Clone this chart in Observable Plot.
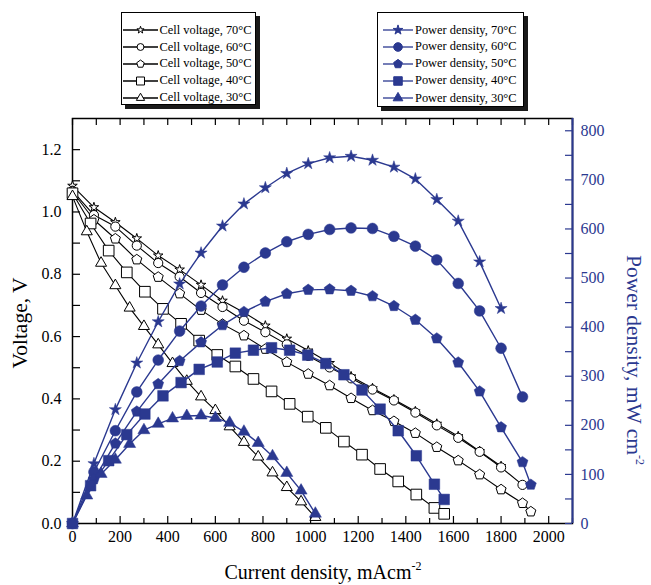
<!DOCTYPE html>
<html><head><meta charset="utf-8">
<script src="https://cdn.jsdelivr.net/npm/d3@7"></script>
<script src="https://cdn.jsdelivr.net/npm/@observablehq/plot@0.6"></script>
<style>
body{margin:0;background:#fff;}
#wrap{position:relative;width:651px;height:585px;font-family:"Liberation Serif","Times New Roman",serif;overflow:hidden;}
#wrap svg.plot{position:absolute;left:0;top:0;}
#wrap svg.plot text{font-family:"Liberation Serif","Times New Roman",serif;}
.legend{position:absolute;border:1.3px solid #000;background:#fff;box-shadow:4px 4px 0 #1a1a1a;box-sizing:border-box;}
.lrow{position:absolute;font-size:12.4px;white-space:nowrap;line-height:14px;}
.title{position:absolute;font-size:20px;white-space:nowrap;line-height:22px;}
.title sup{font-size:12px;vertical-align:9px;line-height:0;}
.vt{font-size:21.5px;}
</style></head><body><div id="wrap"></div>
<script>
const blue = "#2b3990";

// ---- data (current density mA/cm2, voltage V, power density mW/cm2) ----
const cur70  = [0,90,180,270,360,450,540,630,720,810,900,990,1080,1170,1260,1350,1440,1530,1620,1710,1800];
const volt70 = [1.084,1.015,0.967,0.915,0.860,0.815,0.766,0.715,0.677,0.635,0.593,0.555,0.515,0.472,0.434,0.398,0.360,0.320,0.280,0.232,0.184];
const pow70  = [0,122,232,327,411,488,551,606,651,684,713,733,745,748,740,726,702,660,616,533,438];

const cur60  = [0,90,180,270,360,450,540,630,720,810,900,990,1080,1170,1260,1350,1440,1530,1620,1710,1800,1890];
const volt60 = [1.068,0.990,0.953,0.892,0.836,0.792,0.740,0.695,0.651,0.614,0.575,0.538,0.501,0.466,0.430,0.395,0.356,0.315,0.275,0.230,0.180,0.124];
const pow60  = [0,105,189,268,333,392,443,486,522,551,574,589,599,602,601,585,565,537,489,433,357,258];

const cur50  = [0,90,180,270,360,450,540,630,720,810,900,990,1080,1170,1260,1350,1440,1530,1620,1710,1800,1890,1925];
const volt50 = [1.065,0.975,0.914,0.847,0.791,0.738,0.685,0.640,0.603,0.560,0.518,0.480,0.443,0.402,0.363,0.328,0.290,0.245,0.202,0.157,0.109,0.065,0.038];
const pow50  = [0,90,163,228,284,331,369,404,431,452,468,476,477,474,463,443,415,377,328,269,196,125,79];

const cur40  = [0,76,152,228,304,380,456,532,608,684,760,836,912,988,1064,1140,1216,1292,1368,1444,1520,1561];
const volt40 = [1.060,0.963,0.876,0.806,0.744,0.689,0.641,0.587,0.541,0.504,0.464,0.424,0.384,0.343,0.307,0.263,0.221,0.175,0.135,0.093,0.050,0.031];
const pow40  = [0,77,128,181,223,260,287,314,329,347,353,358,353,343,326,303,272,233,189,138,80,49];

const cur30  = [0,60,120,180,240,300,360,420,480,540,600,660,720,780,840,900,960,1020];
const volt30 = [1.050,0.937,0.836,0.764,0.692,0.633,0.574,0.514,0.457,0.407,0.363,0.311,0.261,0.214,0.163,0.116,0.070,0.020];
const pow30  = [0,57,101,130,162,190,203,214,219,220,215,205,187,164,137,103,67,20];

const temps = ["70","60","50","40","30"];
const xMajor = [0,200,400,600,800,1000,1200,1400,1600,1800,2000];
const xAll   = [0,100,200,300,400,500,600,700,800,900,1000,1100,1200,1300,1400,1500,1600,1700,1800,1900,2000,2100];
const xMinor = [100,300,500,700,900,1100,1300,1500,1700,1900,2100];
const yMajor = [0,0.2,0.4,0.6,0.8,1.0,1.2];
const yAll   = [0,0.1,0.2,0.3,0.4,0.5,0.6,0.7,0.8,0.9,1.0,1.1,1.2];
const pMajor = [0,100,200,300,400,500,600,700,800];
const pAll   = [0,50,100,150,200,250,300,350,400,450,500,550,600,650,700,750,800];

// ---- layout ----
const W = 651, H = 585, mL = 72, mR = 79, mT = 118, mB = 62;
const fw = W - mL - mR, fh = H - mT - mB;
const yMax = 1.3, pMax = 825, k = yMax / pMax;
const serif = '"Liberation Serif","Times New Roman",serif';

const symbolPentagon = {draw(ctx, size){
  const R = Math.sqrt(size / 2.3776);
  for (let i = 0; i < 5; i++) {
    const a = -Math.PI/2 + i * 2 * Math.PI / 5;
    const x = R * Math.cos(a), y = R * Math.sin(a);
    if (i) ctx.lineTo(x, y); else ctx.moveTo(x, y);
  }
  ctx.closePath();
}};

const series = [
  {t:"70", cur:cur70, volt:volt70, pow:pow70, sym:d3.symbolStar,     rH:3.0, rS:3.8},
  {t:"60", cur:cur60, volt:volt60, pow:pow60, sym:d3.symbolCircle,   rH:4.6, rS:5.4},
  {t:"50", cur:cur50, volt:volt50, pow:pow50, sym:symbolPentagon,    rH:4.6, rS:5.0},
  {t:"40", cur:cur40, volt:volt40, pow:pow40, sym:d3.symbolSquare,   rH:6.0, rS:6.0},
  {t:"30", cur:cur30, volt:volt30, pow:pow30, sym:d3.symbolTriangle, rH:4.1, rS:4.5}
];
series.forEach(s => { s.rows = s.cur.map((c, i) => ({I: c, V: s.volt[i], P: s.pow[i]})); });

const marks = [
  Plot.frame({stroke: "black", strokeWidth: 1.5}),
  // inward ticks
  Plot.ruleX(xAll, {insetBottom: fh - 7, stroke: "black", strokeWidth: 1.2}),
  Plot.ruleX(xMajor, {insetTop: fh - 7, stroke: "black", strokeWidth: 1.2}),
  Plot.ruleX(xMinor, {insetTop: fh - 5, stroke: "black", strokeWidth: 1.2}),
  Plot.ruleY(yAll, {insetRight: fw - 8, stroke: "black", strokeWidth: 1.2}),
  Plot.ruleY(pAll.map(p => p * k), {insetLeft: fw - 7, stroke: blue, strokeWidth: 1.2}),
  Plot.ruleX([2100], {stroke: blue, strokeWidth: 2}),
  Plot.axisX({ticks: xMajor, tickSize: 0, tickPadding: 7, label: null, tickFormat: d => String(d),
              fontFamily: serif, fontSize: 16}),
  Plot.axisY({ticks: yMajor, tickSize: 0, tickPadding: 11, tickFormat: d3.format(".1f"), label: null,
              fontFamily: serif, fontSize: 16}),
  Plot.axisY({anchor: "right", ticks: pMajor.map(p => p * k), tickSize: 0, tickPadding: 8,
              tickFormat: d => String(Math.round(d / k)), label: null, fill: blue,
              fontFamily: serif, fontSize: 16})
];
// voltage curves (hollow markers)
series.forEach(s => {
  marks.push(Plot.line(s.rows, {x: "I", y: "V", stroke: "black", strokeWidth: 1.1}));
});
series.forEach(s => {
  marks.push(Plot.dot(s.rows, {x: "I", y: "V", symbol: s.sym, r: s.rH, fill: "white", stroke: "black", strokeWidth: 1}));
});
// power curves (solid markers)
series.forEach(s => {
  marks.push(Plot.line(s.rows, {x: "I", y: d => d.P * k, stroke: blue, strokeWidth: 1.4}));
  marks.push(Plot.dot(s.rows, {x: "I", y: d => d.P * k, symbol: s.sym, r: s.rS, fill: blue, stroke: blue, strokeWidth: 0.5}));
});

const chart = Plot.plot({
  width: W, height: H,
  marginLeft: mL, marginRight: mR, marginTop: mT, marginBottom: mB,
  x: {domain: [0, 2100]},
  y: {domain: [0, yMax]},
  style: {fontFamily: serif, fontSize: "16px", background: "white", color: "black"},
  marks
});
chart.classList.add("plot");
const wrap = document.getElementById("wrap");
wrap.appendChild(chart);

// ---- legends ----
function legend(box, rowsY, lineX0, lineX1, textX, color, fill, label, scale) {
  const d = document.createElement("div");
  d.className = "legend";
  Object.assign(d.style, {left: box[0] + "px", top: box[1] + "px", width: box[2] + "px", height: box[3] + "px"});
  wrap.appendChild(d);
  series.forEach((s, i) => {
    const cy = rowsY[i];
    const svg = d3.create("svg").attr("width", lineX1 - lineX0 + 2).attr("height", 14)
      .style("position", "absolute").style("left", (lineX0 - 1) + "px").style("top", (cy - 7) + "px");
    svg.append("line").attr("x1", 1).attr("x2", lineX1 - lineX0 + 1).attr("y1", 7).attr("y2", 7)
      .attr("stroke", color).attr("stroke-width", 1.3);
    const r = (fill === "white" ? s.rH : s.rS) * scale;
    svg.append("path").attr("transform", `translate(${(lineX1 - lineX0) / 2 + 1},7)`)
      .attr("d", d3.symbol(s.sym, r * r * Math.PI)())
      .attr("fill", fill).attr("stroke", color).attr("stroke-width", 1);
    wrap.appendChild(svg.node());
    const t = document.createElement("div");
    t.className = "lrow";
    t.textContent = label + s.t + "\u00b0C";
    Object.assign(t.style, {left: textX + "px", top: (cy - 7.5) + "px"});
    wrap.appendChild(t);
  });
}
legend([121, 12, 135, 93], [30, 47, 63.5, 80.5, 97.5], 123, 158, 159.5, "black", "white", "Cell voltage, ", 0.75);
legend([377, 12, 147, 95], [30, 46.5, 63.5, 80.5, 98], 383, 413, 415, blue, blue, "Power density, ", 0.8);

// ---- axis titles ----
function title(html, x, y, rot, color, cls) {
  const t = document.createElement("div");
  t.className = "title" + (cls ? " " + cls : "");
  t.innerHTML = html;
  t.style.color = color;
  t.style.left = x + "px"; t.style.top = y + "px";
  t.style.transform = `translate(-50%,-50%) rotate(${rot}deg)`;
  wrap.appendChild(t);
}
title("Current density, mAcm<sup>-2</sup>", 323, 572, 0, "black");
title("Voltage, V", 20, 323, -90, "black", "vt");
title("Power density, mW cm<sup>-2</sup>", 634, 360, 90, blue, "vt");
</script>
</body></html>
